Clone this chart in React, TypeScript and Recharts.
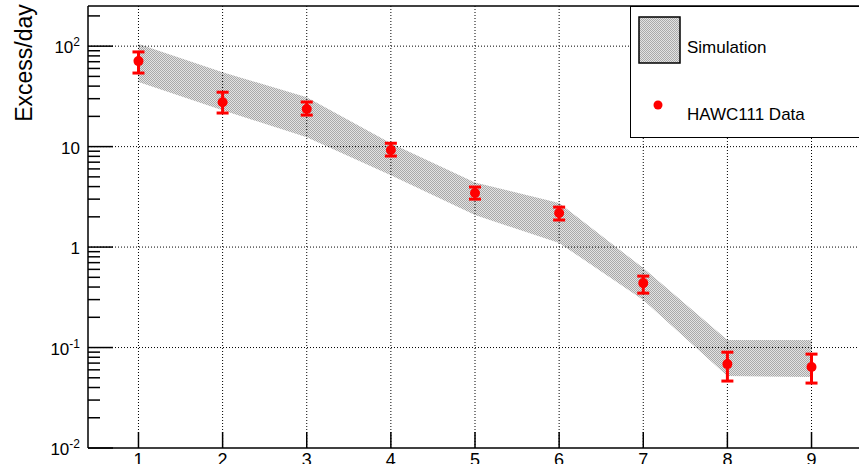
import React from "react";
import { ComposedChart, Area, Scatter, ErrorBar, XAxis, YAxis, ReferenceLine } from "recharts";

// bins and values
const bins = [1, 2, 3, 4, 5, 6, 7, 8, 9];
const simLow = [44, 23, 12.4, 5.2, 2.08, 1.1, 0.297, 0.052, 0.051];
const simHigh = [105, 55, 31, 10.8, 4.4, 2.74, 0.618, 0.1186, 0.1186];
const dataVal = [71, 27.7, 23.7, 9.25, 3.45, 2.18, 0.438, 0.0684, 0.0639];
const dataLow = [54, 21.6, 20.6, 8.06, 3.0, 1.86, 0.348, 0.0464, 0.0443];
const dataHigh = [87.6, 34.8, 27.8, 10.8, 3.96, 2.5, 0.514, 0.0899, 0.086];

const decades = [0.01, 0.1, 1, 10, 100];
const decadeBase = ["10", "10", "1", "10", "10"];
const decadeExp = ["-2", "-1", "", "", "2"];
const xLabels = ["1", "2", "3", "4", "5", "6", "7", "8", "9"];

const Y_MIN = 0.01;
const Y_MAX = 251;
const X_MIN = 0.4;
const X_MAX = 9.6;

const font = "'Liberation Sans', Arial, Helvetica, sans-serif";

const rows = bins.map((x, i) => ({
  x,
  band: [simLow[i], simHigh[i]],
  val: dataVal[i],
  err: [dataVal[i] - dataLow[i], dataHigh[i] - dataVal[i]],
}));

const yTicks: number[] = [];
decades.forEach((d) => {
  for (let k = 1; k <= 9; k++) {
    const v = Number((k * d).toPrecision(3));
    if (v <= Y_MAX) yTicks.push(v);
  }
});

function YTick({ x, y, payload }: any) {
  const v = payload.value;
  const i = decades.indexOf(v);
  const major = i >= 0;
  return (
    <g>
      <line x1={x} x2={x + (major ? 25 : 12)} y1={y} y2={y} stroke="#000" strokeWidth={1.5} />
      {major && (
        <text x={x - 8} y={y + 7} textAnchor="end" fontSize={17} fontFamily={font} fill="#000">
          {decadeBase[i]}
          {decadeExp[i] && (
            <tspan dy={-7} fontSize={12}>{decadeExp[i]}</tspan>
          )}
        </text>
      )}
    </g>
  );
}

function XTick({ x, y, payload, index }: any) {
  return (
    <g>
      <line x1={x} x2={x} y1={y} y2={y - 16} stroke="#000" strokeWidth={1.5} />
      <text x={x} y={y + 18} textAnchor="middle" fontSize={18} fontFamily={font} fill="#000">
        {xLabels[index] ?? payload.value}
      </text>
    </g>
  );
}

function Hatch({ id }: { id: string }) {
  return (
    <pattern id={id} width={2} height={2} patternUnits="userSpaceOnUse">
      <rect width={2} height={2} fill="#e2e2e2" />
      <rect x={0} y={0} width={1} height={1} fill="#a9a9a9" />
      <rect x={1} y={1} width={1} height={1} fill="#a9a9a9" />
    </pattern>
  );
}

export default function App() {
  return (
    <div style={{ position: "absolute", left: 0, top: 0, width: 859, height: 464, overflow: "hidden", background: "#fff" }}>
      <ComposedChart
        width={880}
        height={480}
        data={rows}
        margin={{ top: 6, right: 18, bottom: 0, left: 0 }}
      >
        <defs>
          <Hatch id="simHatch" />
        </defs>
        <XAxis
          dataKey="x"
          type="number"
          domain={[X_MIN, X_MAX]}
          ticks={bins}
          interval={0}
          height={32}
          tickSize={0}
          tickMargin={0}
          tickLine={false}
          axisLine={{ stroke: "#000", strokeWidth: 1.5 }}
          tick={<XTick />}
          allowDataOverflow
        />
        <YAxis
          type="number"
          scale="log"
          domain={[Y_MIN, Y_MAX]}
          ticks={yTicks}
          interval={0}
          width={88}
          tickSize={0}
          tickMargin={0}
          tickLine={false}
          axisLine={{ stroke: "#000", strokeWidth: 1.5 }}
          tick={<YTick />}
          allowDataOverflow
          label={{
            content: () => (
              <text
                x={32}
                y={63}
                transform="rotate(-90 32 63)"
                textAnchor="middle"
                fontSize={23}
                fontFamily={font}
                fill="#000"
              >
                Excess/day
              </text>
            ),
          }}
        />
        <Area
          dataKey="band"
          type="linear"
          stroke="none"
          fill="url(#simHatch)"
          fillOpacity={1}
          isAnimationActive={false}
        />
        {decades.slice(1).map((d) => (
          <ReferenceLine key={"h" + d} y={d} stroke="#000" strokeDasharray="1 2" strokeWidth={1} />
        ))}
        {bins.map((b) => (
          <ReferenceLine key={"v" + b} x={b} stroke="#000" strokeDasharray="1 2" strokeWidth={1} />
        ))}
        <ReferenceLine y={Y_MAX} stroke="#000" strokeWidth={1.5} ifOverflow="visible" />
        <Scatter
          dataKey="val"
          fill="#ff0000"
          isAnimationActive={false}
          shape={(p: any) => <circle cx={p.cx} cy={p.cy} r={5} fill="#ff0000" />}
        >
          <ErrorBar dataKey="err" direction="y" width={6} strokeWidth={3} stroke="#ff0000" isAnimationActive={false} />
        </Scatter>
      </ComposedChart>

      <div
        style={{
          position: "absolute",
          left: 630,
          top: 6,
          width: 240,
          height: 132,
          border: "1.5px solid #000",
          background: "#fff",
          boxSizing: "border-box",
          fontFamily: font,
          fontSize: 17,
          color: "#000",
        }}
      >
        <svg width={44} height={48} style={{ position: "absolute", left: 7, top: 9 }}>
          <defs>
            <Hatch id="legHatch" />
          </defs>
          <rect x={1} y={1} width={41} height={46} fill="url(#legHatch)" stroke="#000" strokeWidth={1.5} />
        </svg>
        <div style={{ position: "absolute", left: 56, top: 31 }}>Simulation</div>
        <svg width={12} height={12} style={{ position: "absolute", left: 21, top: 92 }}>
          <circle cx={6} cy={6} r={4.5} fill="#ff0000" />
        </svg>
        <div style={{ position: "absolute", left: 56, top: 98 }}>HAWC111 Data</div>
      </div>
    </div>
  );
}
